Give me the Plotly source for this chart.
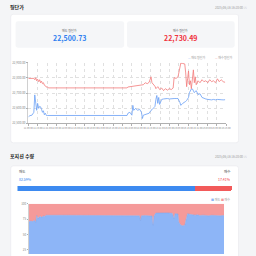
import pandas as pd
import plotly.graph_objects as go

# ---------------- data ----------------
start_time = pd.Timestamp("2025-06-11 09:00")
end_time = pd.Timestamp("2025-06-16 15:00")

avg_hours = [0, 1.0, 2.3, 3.5, 4.1, 4.7, 5.3, 5.9, 6.6, 7.2, 7.8, 8.4, 9.0, 9.6, 10.2, 10.8, 11.5, 12.1, 12.7,
             21.9, 34.1, 46.4, 58.6, 62.9, 63.5, 64.7, 66.0, 66.6, 67.2, 68.4, 69.6, 70.9, 72.1, 72.7, 73.3,
             74.5, 75.8, 77.0, 78.2, 78.8, 80.1, 80.7, 81.3, 81.9, 82.5, 83.1, 83.7, 84.4, 85.0, 86.2, 87.4,
             88.6, 89.9, 91.1, 92.3, 92.9, 94.2, 95.4, 96.6, 97.2, 98.4, 99.7, 100.3, 100.9, 101.5, 102.1,
             102.7, 103.3, 103.9, 104.6, 105.2, 105.8, 106.4, 107.0, 108.2, 109.4, 110.7, 111.9, 113.1,
             114.4, 115.6, 116.8, 118.0, 119.3, 120.5, 121.7, 122.9, 124.2, 125.4]

sell_avg = [22543, 22551, 22554, 22573, 22688, 22619, 22586, 22632, 22599, 22612, 22609, 22593, 22573, 22583,
            22557, 22567, 22552, 22552, 22552, 22552, 22552, 22552, 22552, 22552, 22567, 22573, 22554, 22619,
            22586, 22599, 22586, 22593, 22573, 22532, 22554, 22557, 22560, 22567, 22586, 22590, 22605, 22612,
            22658, 22684, 22632, 22671, 22625, 22651, 22658, 22661, 22664, 22664, 22661, 22664, 22664, 22664,
            22664, 22664, 22638, 22619, 22632, 22638, 22645, 22651, 22660, 22671, 22703, 22723, 22727, 22727,
            22716, 22703, 22710, 22716, 22690, 22696, 22671, 22664, 22661, 22658, 22655, 22655, 22658, 22655,
            22658, 22655, 22656, 22655, 22656]

buy_avg = [22796, 22797, 22794, 22797, 22788, 22801, 22781, 22791, 22775, 22788, 22768, 22778, 22762, 22768,
           22752, 22749, 22739, 22742, 22734, 22734, 22734, 22734, 22734, 22734, 22740, 22742, 22745, 22746,
           22748, 22749, 22750, 22752, 22754, 22755, 22755, 22768, 22762, 22771, 22807, 22768, 22755, 22745,
           22729, 22735, 22742, 22733, 22723, 22728, 22733, 22716, 22729, 22719, 22729, 22723, 22733, 22801,
           22797, 22807, 22872, 22898, 22895, 22892, 22833, 22742, 22794, 22846, 22755, 22781, 22729, 22820,
           22853, 22768, 22807, 22755, 22781, 22768, 22788, 22775, 22781, 22768, 22788, 22775, 22781, 22768,
           22794, 22775, 22788, 22775, 22771]

avg_ticks = [22500, 22600, 22700, 22800, 22900]

pos_hours = [0, 1.2, 2.5, 3.1, 3.7, 4.3, 5.0, 5.6, 6.2, 6.8, 7.4, 8.1, 8.7, 9.3, 9.9, 10.6, 11.2, 21.7, 34.1,
             46.6, 59.0, 63.9, 66.4, 68.9, 71.4, 72.0, 72.6, 75.1, 77.6, 79.5, 80.1, 80.7, 81.9, 83.8, 86.9,
             90.0, 92.5, 93.7, 94.3, 96.2, 96.8, 98.1, 99.3, 100.6, 101.2, 102.4, 103.7, 105.5, 107.4, 108.6,
             110.5, 112.3, 114.2, 116.1, 117.9, 119.8, 121.7, 123.5, 125.4, 126.0]

sell_pct = [70.7, 72.0, 71.0, 73.0, 72.5, 70.0, 81.0, 76.0, 77.6, 79.0, 79.7, 78.0, 80.0, 80.2, 79.5, 80.5, 81.3,
            81.3, 81.3, 81.3, 81.3, 80.3, 80.8, 81.0, 80.5, 72.3, 80.5, 81.0, 80.8, 80.0, 65.0, 80.0, 85.0,
            85.3, 85.0, 85.2, 84.5, 76.0, 84.0, 83.5, 70.0, 65.0, 64.3, 65.0, 72.0, 84.0, 83.0, 82.0, 81.5,
            82.0, 81.0, 81.5, 81.0, 80.5, 81.3, 80.8, 81.0, 80.5, 81.0, 81.0]

buy_pct = [29.3, 28.0, 29.0, 27.0, 27.5, 30.0, 19.0, 24.0, 22.4, 21.0, 20.3, 22.0, 20.0, 19.8, 20.5, 19.5, 18.7,
           18.7, 18.7, 18.7, 18.7, 19.7, 19.2, 19.0, 19.5, 27.7, 19.5, 19.0, 19.2, 20.0, 35.0, 20.0, 15.0,
           14.7, 15.0, 14.8, 15.5, 24.0, 16.0, 16.5, 30.0, 35.0, 35.7, 35.0, 28.0, 16.0, 17.0, 18.0, 18.5,
           18.0, 19.0, 18.5, 19.0, 19.5, 18.7, 19.2, 19.0, 19.5, 19.0, 19.0]

ratio_sell = 82.59
ratio_buy = 17.41
sell_avg_total = "22,500.73"
buy_avg_total = "22,730.49"
timestamp = "2025/06/16 16:20:00"

# ---------------- styles ----------------
FONT = "Noto Sans CJK KR"
BLUE = "#2f7ff0"
RED = "#f0323c"
BLUE_LINE = "#6a9ff5"
RED_LINE = "#f27a7a"
W = H = 256


def px(x):
    return x / W


def py(y):
    return 1 - y / H


def rrect(x0, y0, x1, y1, r):
    X0, X1 = px(x0), px(x1)
    Y0, Y1 = py(y0), py(y1)
    rx, ry = r / W, r / H
    return (f"M{X0+rx},{Y0} L{X1-rx},{Y0} Q{X1},{Y0} {X1},{Y0-ry} L{X1},{Y1+ry} Q{X1},{Y1} {X1-rx},{Y1} "
            f"L{X0+rx},{Y1} Q{X0},{Y1} {X0},{Y1+ry} L{X0},{Y0-ry} Q{X0},{Y0} {X0+rx},{Y0} Z")


avg_times = [start_time + pd.Timedelta(hours=h) for h in avg_hours]
pos_times = [start_time + pd.Timedelta(hours=h) for h in pos_hours]

fig = go.Figure()

fig.add_trace(go.Scatter(x=avg_times, y=sell_avg, mode="lines", line=dict(color=BLUE_LINE, width=0.8),
                         xaxis="x", yaxis="y", showlegend=False, hoverinfo="skip"))
fig.add_trace(go.Scatter(x=avg_times, y=buy_avg, mode="lines", line=dict(color=RED_LINE, width=0.8),
                         xaxis="x", yaxis="y", showlegend=False, hoverinfo="skip"))

fig.add_trace(go.Bar(x=[ratio_sell], y=["r"], orientation="h", marker=dict(color="#3d8af0", line=dict(width=0)),
                     xaxis="x2", yaxis="y2", showlegend=False, width=1))
fig.add_trace(go.Bar(x=[ratio_buy], y=["r"], orientation="h", marker=dict(color="#f25a5a", line=dict(width=0)),
                     xaxis="x2", yaxis="y2", showlegend=False, width=1))

fig.add_trace(go.Scatter(x=pos_times, y=sell_pct, stackgroup="pos", mode="lines",
                         line=dict(color="#7aa6ee", width=0.5), fillcolor="#8db5f7",
                         xaxis="x3", yaxis="y3", showlegend=False, hoverinfo="skip"))
fig.add_trace(go.Scatter(x=pos_times, y=buy_pct, stackgroup="pos", mode="lines",
                         line=dict(color="#f39595", width=0), fillcolor="#f59a9a",
                         xaxis="x3", yaxis="y3", showlegend=False, hoverinfo="skip"))

shapes = [
    dict(type="path", path=rrect(6, 12.5, 243, 143, 2.5), fillcolor="white", line=dict(color="#e8e8ec", width=0.6),
         xref="paper", yref="paper", layer="below"),
    dict(type="path", path=rrect(11, 19.5, 124, 46.5, 2.5), fillcolor="#f5f6f8", line=dict(width=0),
         xref="paper", yref="paper", layer="below"),
    dict(type="path", path=rrect(127, 19.5, 239, 46.5, 2.5), fillcolor="#f5f6f8", line=dict(width=0),
         xref="paper", yref="paper", layer="below"),
    dict(type="path", path=rrect(6, 166.5, 243, 262, 2.5), fillcolor="white", line=dict(color="#e8e8ec", width=0.6),
         xref="paper", yref="paper", layer="below"),
]


def ann(text, x, y, size, color, anchor="left", bold=False):
    if bold:
        text = f"<b>{text}</b>"
    return dict(text=text, x=px(x), y=py(y), xref="paper", yref="paper", showarrow=False,
                xanchor=anchor, yanchor="middle", font=dict(size=size, color=color, family=FONT))


annotations = [
    ann("평단가", 3.5, 5.5, 5, "#222", bold=True),
    ann(f"{timestamp} ⓘ", 254, 6, 3, "#9a9a9a", "right"),
    ann("매도 평단가", 67, 28.5, 3, "#666", "center"),
    ann(sell_avg_total, 67, 36.5, 7, BLUE, "center", bold=True),
    ann("매수 평단가", 183, 28.5, 3, "#666", "center"),
    ann(buy_avg_total, 183, 36.5, 7, RED, "center", bold=True),
    ann(f"<span style='color:{BLUE_LINE}'>—</span> 매도평단가", 199, 56.5, 3, "#9a9a9a", "center"),
    ann(f"<span style='color:{RED_LINE}'>—</span> 매수평단가", 227, 56.5, 3, "#9a9a9a", "center"),
    ann("포지션 수량", 3.5, 156, 5, "#222", bold=True),
    ann(f"{timestamp} ⓘ", 254, 157, 3, "#9a9a9a", "right"),
    ann("매도", 13, 172.5, 3.5, "#444"),
    ann(f"{ratio_sell:.2f}%", 13, 180.5, 3.5, BLUE),
    ann("매수", 237, 172.5, 3.5, "#444", "right"),
    ann(f"{ratio_buy:.2f}%", 237, 180.5, 3.5, RED, "right"),
    ann("<span style='color:#8db5f7'>■</span> 매도 <span style='color:#f59a9a'>■</span> 매수", 224, 201, 3,
        "#9a9a9a", "center"),
]

fig.update_layout(
    width=W, height=H, margin=dict(l=0, r=0, t=0, b=0, pad=0),
    paper_bgcolor="#f4f5f7", plot_bgcolor="white",
    font=dict(family=FONT, size=3, color="#777"),
    barmode="stack", barcornerradius=3, bargap=0,
    shapes=shapes, annotations=annotations, showlegend=False,
    xaxis=dict(domain=[px(24.3), px(230)], anchor="y", type="date", range=[start_time, end_time],
               dtick=6 * 3600 * 1000, tick0=start_time, tickformat="%d %H:%M", tickangle=0,
               tickfont=dict(size=2.4, color="#888"), showgrid=True, gridcolor="#e0e0e0", griddash="dot",
               gridwidth=0.5, showline=True, linecolor="#b0b0b0", linewidth=0.6, ticks="outside",
               ticklen=1.5, tickcolor="#b0b0b0", tickwidth=0.5, zeroline=False),
    yaxis=dict(domain=[py(123.3), py(61.7)], anchor="x", range=[avg_ticks[0], avg_ticks[-1]],
               tickvals=avg_ticks, tickformat=",.2f", tickfont=dict(size=3, color="#888"),
               showgrid=True, gridcolor="#e0e0e0", griddash="dot", gridwidth=0.5, showline=True,
               linecolor="#d0d0d0", linewidth=0.5, ticks="outside", ticklen=1.5, tickcolor="#b0b0b0",
               tickwidth=0.5, zeroline=False),
    xaxis2=dict(domain=[px(13), px(237)], anchor="y2", range=[0, 100], visible=False, fixedrange=True),
    yaxis2=dict(domain=[py(192), py(186.5)], anchor="x2", range=[-0.5, 0.5], visible=False),
    xaxis3=dict(domain=[px(25), px(228)], anchor="y3", type="date", range=[start_time, end_time],
                showgrid=False, showticklabels=False, showline=False, zeroline=False),
    yaxis3=dict(domain=[0, py(205)], anchor="x3", range=[18.3, 100], tickvals=[25, 50, 75, 100],
                tickfont=dict(size=3, color="#888"), showgrid=False, showline=True, linecolor="#d0d0d0",
                linewidth=0.5, ticks="outside", ticklen=1.5, tickcolor="#b0b0b0", tickwidth=0.5,
                zeroline=False),
)

fig.write_html("out.html")
